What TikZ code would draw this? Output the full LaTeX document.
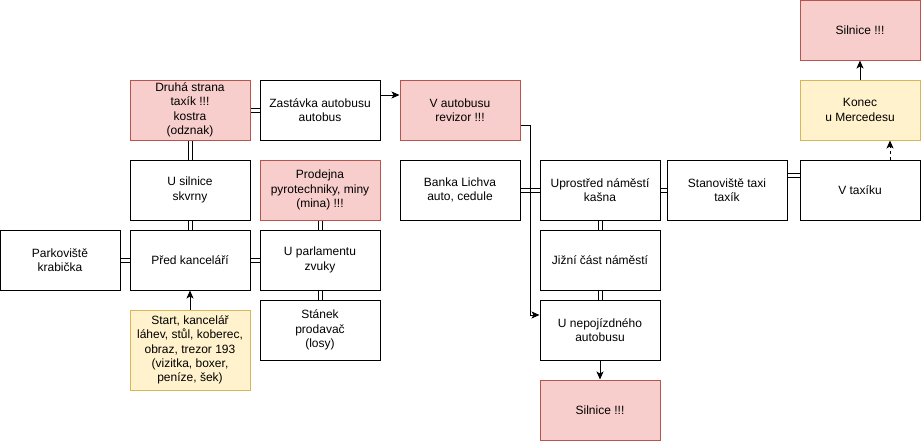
\documentclass[tikz,border=0pt]{standalone}
\usepackage{xcolor}
\usepackage{fontspec}
\setmainfont{Liberation Sans}
\usetikzlibrary{arrows.meta}
\definecolor{dangerfill}{HTML}{F8CECC}
\definecolor{dangerline}{HTML}{B85450}
\definecolor{goalfill}{HTML}{FFF2CC}
\definecolor{goalline}{HTML}{D6B656}
\tikzset{room/.style={draw, line width=1pt, minimum width=120pt, minimum height=60pt, inner sep=0pt, align=center, font=\fontsize{12}{14.4}\selectfont}}
\tikzset{danger/.style={room, draw=dangerline, fill=dangerfill}}
\tikzset{goal/.style={room, draw=goalline, fill=goalfill}}
\tikzset{link/.style={double, double distance=3pt, line width=1pt}}
\tikzset{go/.style={line width=1pt, -{Stealth[length=8pt,width=7pt,inset=2pt]}}}

\begin{document}
\begin{tikzpicture}[x=1pt, y=-1pt]
    \useasboundingbox (0,0) rectangle (921,442);

    % draw the rooms
    \node[room] (parkoviste) at (60,260) {Parkoviště\\krabička};
    \node[room] (kancelar) at (190,260) {Před kanceláří};
    \node[room] (silnice) at (190,190) {U silnice\\skvrny};
    \node[danger] (druha) at (190,110) {Druhá strana\\taxík !!!\\kostra\\(odznak)};
    \node[room] (zastavka) at (320,110) {Zastávka autobusu\\autobus};
    \node[danger] (autobus) at (460,110) {V autobusu\\revizor !!!};
    \node[danger] (prodejna) at (320,190) {Prodejna\\pyrotechniky, miny\\(mina) !!!};
    \node[room] (parlament) at (320,260) {U parlamentu\\zvuky};
    \node[room] (stanek) at (320,330) {Stánek\\prodavač\\(losy)};
    \node[goal, minimum height=80pt] (start) at (190,350) {Start, kancelář\\láhev, stůl, koberec,\\obraz, trezor 193\\(vizitka, boxer,\\peníze, šek)};
    \node[room] (banka) at (460,190) {Banka Lichva\\auto, cedule};
    \node[room] (namesti) at (600,190) {Uprostřed náměstí\\kašna};
    \node[room] (jizni) at (600,260) {Jižní část náměstí};
    \node[room] (nepojizdny) at (600,330) {U nepojízdného\\autobusu};
    \node[danger] (silnicedole) at (600,410) {Silnice !!!};
    \node[room] (stanoviste) at (727,190) {Stanoviště taxi\\taxík};
    \node[room] (taxik) at (860,190) {V taxíku};
    \node[goal] (konec) at (860,110) {Konec\\u Mercedesu};
    \node[danger] (silnicenahore) at (860,30) {Silnice !!!};

    % draw the passages
    \draw[link] (parkoviste) -- (kancelar);
    \draw[link] (kancelar) -- (parlament);
    \draw[link] (kancelar) -- (silnice);
    \draw[link] (silnice) -- (druha);
    \draw[link] (druha) -- (zastavka);
    \draw[link] (prodejna) -- (parlament);
    \draw[link] (parlament) -- (stanek);
    \draw[link] (banka) -- (namesti);
    \draw[link] (namesti) -- (jizni);
    \draw[link] (jizni) -- (nepojizdny);
    \draw[link] (namesti) -- (stanoviste);
    \draw[link] ([yshift=15pt]stanoviste.east) -- ([yshift=15pt]taxik.west);

    % draw the one-way moves
    \draw[go] (start) -- (kancelar);
    \draw[go] ([yshift=15pt]zastavka.east) -- ([yshift=15pt]autobus.west);
    \draw[go] ([yshift=-15pt]autobus.east) -- ++(10,0) |- ([yshift=15pt]nepojizdny.west);
    \draw[go] (nepojizdny) -- (silnicedole);
    \draw[go, dash pattern=on 3pt off 3pt] ([xshift=30pt]taxik.north) -- ([xshift=30pt]konec.south);
    \draw[go] (konec) -- (silnicenahore);
\end{tikzpicture}
\end{document}
